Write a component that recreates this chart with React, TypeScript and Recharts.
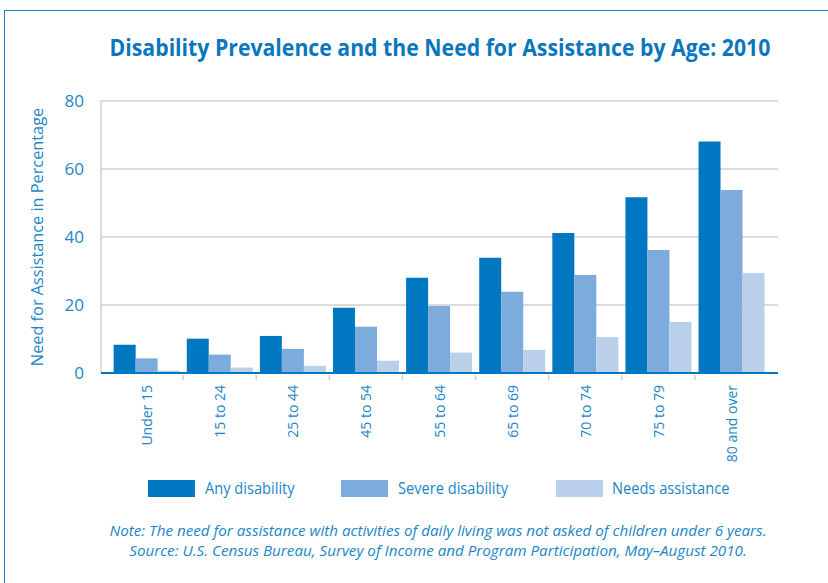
import React from 'react';
import { BarChart, Bar, XAxis, YAxis, CartesianGrid } from 'recharts';

const categories = ['Under 15', '15 to 24', '25 to 44', '45 to 54', '55 to 64', '65 to 69', '70 to 74', '75 to 79', '80 and over'];
const anyDisability = [8.3, 10.1, 10.9, 19.2, 28.0, 33.9, 41.2, 51.7, 68.1];
const severeDisability = [4.3, 5.4, 7.1, 13.6, 19.7, 23.9, 28.8, 36.2, 53.8];
const needsAssistance = [0.7, 1.6, 2.1, 3.6, 6.0, 6.8, 10.6, 15.0, 29.4];
const yTicks = [0, 20, 40, 60, 80];

const seriesNames = ['Any disability', 'Severe disability', 'Needs assistance'];
const colors = ['#0077c1', '#7dabdb', '#bad0ea'];

const data = categories.map((c, i) => ({
  name: c,
  any: anyDisability[i],
  severe: severeDisability[i],
  needs: needsAssistance[i],
}));

const FONT = '"Open Sans", sans-serif';
const TEXT_BLUE = '#1a86c8';

const XTick = (props: any) => {
  const { x, y, payload, index } = props;
  const off = payload && payload.offset != null ? payload.offset : 36.5;
  return (
    <g>
      {index < categories.length - 1 && (
        <line x1={x + off} x2={x + off} y1={y + 2} y2={y + 7} stroke="#cfcfcf" strokeWidth={1.5} />
      )}
      <text
        transform={`translate(${x},${y + 12}) rotate(-90)`}
        textAnchor="end"
        dominantBaseline="central"
        fill={TEXT_BLUE}
        fontSize={14}
        fontFamily={FONT}
      >
        {payload.value}
      </text>
    </g>
  );
};

const legendPos = [
  { sx: 148, tx: 205 },
  { sx: 341, tx: 398 },
  { sx: 556, tx: 612 },
];

export default function App() {
  return (
    <div style={{ position: 'absolute', left: 0, top: 0, width: 828, height: 583, background: '#fff', overflow: 'hidden', fontFamily: FONT }}>
      <div style={{ position: 'absolute', left: 4, top: 10, width: 830, height: 580, borderTop: '1.5px solid #1a7fc4', borderLeft: '1.5px solid #1a7fc4' }} />
      <div style={{ position: 'absolute', left: 0, top: 30, width: 880, textAlign: 'center', color: '#0a76be', fontWeight: 'bold', fontSize: 24, whiteSpace: 'nowrap', transform: 'scaleX(0.885)', transformOrigin: '440px 0' }}>
        Disability Prevalence and the Need for Assistance by Age: 2010
      </div>
      <div style={{ position: 'absolute', left: 0, top: 0 }}>
        <BarChart
          width={828}
          height={583}
          data={data}
          margin={{ top: 101, right: 50, left: 0, bottom: 0 }}
          barCategoryGap="5%"
          barGap={0}
        >
          <CartesianGrid vertical={false} stroke="#d0d0d0" strokeWidth={1.5} />
          <YAxis
            width={101}
            domain={[0, 80]}
            ticks={yTicks}
            interval={0}
            tickLine={false}
            tickSize={0}
            tickMargin={17}
            axisLine={{ stroke: '#d0d0d0', strokeWidth: 1.5 }}
            tick={{ fill: TEXT_BLUE, fontSize: 17, fontFamily: FONT }}
            label={{
              value: 'Need for Assistance in Percentage',
              angle: -90,
              position: 'insideLeft',
              offset: 0,
              style: { fill: TEXT_BLUE, fontSize: 16.3, fontFamily: FONT, textAnchor: 'middle' },
              dx: 37,
            }}
          />
          <XAxis
            dataKey="name"
            height={210}
            interval={0}
            padding={{ left: 9, right: 10 }}
            tickLine={false}
            tickSize={0}
            tickMargin={0}
            axisLine={{ stroke: '#0077c1', strokeWidth: 2 }}
            tick={<XTick />}
          />
          <Bar dataKey="any" name={seriesNames[0]} fill={colors[0]} isAnimationActive={false} />
          <Bar dataKey="severe" name={seriesNames[1]} fill={colors[1]} isAnimationActive={false} />
          <Bar dataKey="needs" name={seriesNames[2]} fill={colors[2]} isAnimationActive={false} />
        </BarChart>
      </div>
      {seriesNames.map((n, i) => (
        <React.Fragment key={n}>
          <div style={{ position: 'absolute', left: legendPos[i].sx, top: 480, width: 47, height: 17, background: colors[i] }} />
          <div style={{ position: 'absolute', left: legendPos[i].tx, top: 477, fontSize: 17, color: TEXT_BLUE, whiteSpace: 'nowrap', lineHeight: '22px', transform: 'scaleX(0.86)', transformOrigin: '0 0' }}>{n}</div>
        </React.Fragment>
      ))}
      <div style={{ position: 'absolute', left: 0, top: 521, width: 876, textAlign: 'center', color: TEXT_BLUE, fontStyle: 'italic', fontSize: 15.2, lineHeight: '19.5px', whiteSpace: 'nowrap' }}>
        <div>Note: The need for assistance with activities of daily living was not asked of children under 6 years.</div>
        <div>Source: U.S. Census Bureau, Survey of Income and Program Participation, May–August 2010.</div>
      </div>
    </div>
  );
}
